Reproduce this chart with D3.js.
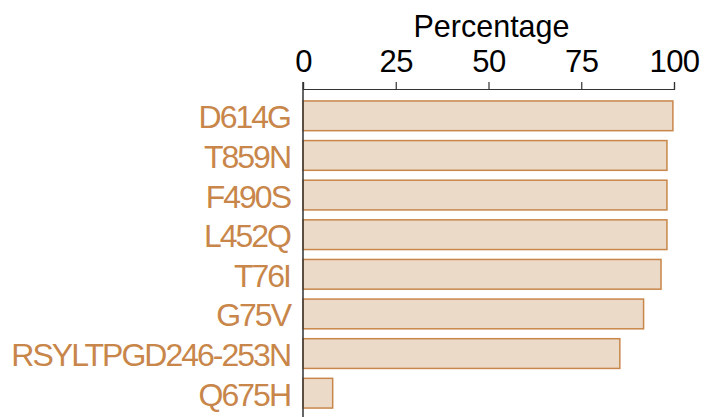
<!DOCTYPE html>
<html><head><meta charset="utf-8">
<script src="https://cdn.jsdelivr.net/npm/d3@7"></script>
<style>body{margin:0;background:#fff}svg{display:block}</style>
</head><body>
<svg id="c" width="704" height="417"></svg>
<script>
const categories = ["D614G","T859N","F490S","L452Q","T76I","G75V","RSYLTPGD246-253N","Q675H"];
const values = [99.7, 98.1, 98.1, 98.1, 96.5, 91.8, 85.4, 8.0];
const ticks = [0, 25, 50, 75, 100];
const axisTitle = "Percentage";

const svg = d3.select("#c");
const font = "'Liberation Sans', Arial, Helvetica, sans-serif";
const brown = "#c8864a";
const x = d3.scaleLinear().domain([0,100]).range([303, 674]);
const y = d3.scaleBand().domain(categories).range([96, 413]).paddingInner(0.25).paddingOuter(0.125);

svg.append("g").selectAll("rect").data(values).join("rect")
  .attr("x", x(0)).attr("y", (d,i)=>y(categories[i]))
  .attr("width", d=>x(d)-x(0)).attr("height", y.bandwidth())
  .attr("fill", "#ecdac8").attr("stroke", brown).attr("stroke-width", 1.5);

const xa = svg.append("g").attr("transform","translate(0,89)")
  .call(d3.axisTop(x).tickValues(ticks).tickSize(7).tickPadding(10).tickFormat(d3.format("d")));
xa.selectAll("path,line").attr("stroke","#333").attr("stroke-width",1.2);
xa.selectAll("text").attr("font-family",font).attr("font-size",31).attr("fill","#000").attr("letter-spacing","-0.5px");

svg.append("text").attr("x", (x(0)+x(100))/2 + 3).attr("y", 36.5).attr("text-anchor","middle")
  .attr("font-family",font).attr("font-size",30.5).attr("fill","#000").text(axisTitle);

const ya = svg.append("g").attr("transform","translate(303,0)")
  .call(d3.axisLeft(y).tickSize(0).tickPadding(13));
ya.select("path").remove();
ya.selectAll("text").attr("font-family",font).attr("font-size",32).attr("fill",brown)
  .attr("letter-spacing","-2px").attr("dy","0.39em");
svg.append("line").attr("x1",303).attr("x2",303).attr("y1",82).attr("y2",417).attr("stroke","#333").attr("stroke-width",1.5);
</script>
</body></html>
